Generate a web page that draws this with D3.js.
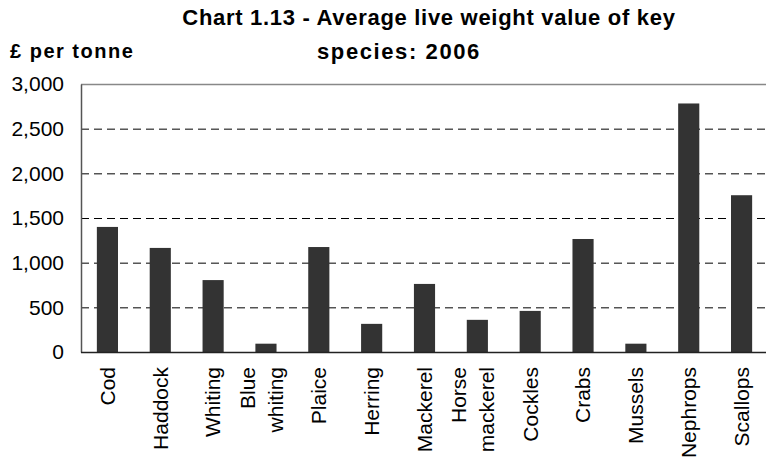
<!DOCTYPE html>
<html>
<head>
<meta charset="utf-8">
<script src="https://cdn.jsdelivr.net/npm/d3@7"></script>
<style>
body { margin: 0; background: #fff; }
text { font-family: Arial, "Liberation Sans", sans-serif; }
</style>
</head>
<body>
<div id="chart"></div>
<script>
// data
const species = ["Cod", "Haddock", "Whiting", "Blue whiting", "Plaice", "Herring", "Mackerel",
  "Horse mackerel", "Cockles", "Crabs", "Mussels", "Nephrops", "Scallops"];
const values = [1400, 1165, 805, 93, 1175, 315, 762, 360, 460, 1265, 93, 2782, 1755];
const yTicks = [0, 500, 1000, 1500, 2000, 2500, 3000];

const W = 766, H = 463;
const margin = {top: 84, right: -2, bottom: 111, left: 81};
const width = W - margin.left - margin.right,
      height = H - margin.top - margin.bottom;

const svg = d3.select("#chart").append("svg")
  .attr("width", W).attr("height", H);

// titles
svg.append("text").attr("x", 429).attr("y", 25).attr("text-anchor", "middle")
  .style("font-size", "22px").style("font-weight", "bold").style("letter-spacing", "0.7px")
  .text("Chart 1.13 - Average live weight value of key");
svg.append("text").attr("x", 399).attr("y", 59).attr("text-anchor", "middle")
  .style("font-size", "22px").style("font-weight", "bold").style("letter-spacing", "1.6px")
  .text("species: 2006");
svg.append("text").attr("x", 10).attr("y", 58)
  .style("font-size", "20px").style("font-weight", "bold").style("letter-spacing", "1.5px")
  .text("£ per tonne");

const g = svg.append("g").attr("transform", `translate(${margin.left},${margin.top})`);

const x = d3.scaleBand().domain(species).range([0, width]).paddingInner(0.6).paddingOuter(0.3);
const y = d3.scaleLinear().domain([0, 3000]).range([height, 0]);

// dashed gridlines
g.append("g").selectAll("line")
  .data(yTicks.filter(d => d > 0 && d < 3000))
  .join("line")
  .attr("x1", 0).attr("x2", width)
  .attr("y1", d => y(d) + 0.5).attr("y2", d => y(d) + 0.5)
  .attr("stroke", "#000").attr("stroke-width", 1)
  .attr("stroke-dasharray", "8,5");

// top frame line
g.append("line").attr("x1", 0).attr("x2", width).attr("y1", 0.5).attr("y2", 0.5)
  .attr("stroke", "#888").attr("stroke-width", 1.5);

// bars
g.append("g").selectAll("rect")
  .data(values)
  .join("rect")
  .attr("x", (d, i) => x(species[i]))
  .attr("y", d => y(d))
  .attr("width", x.bandwidth())
  .attr("height", d => height - y(d))
  .attr("fill", "#333333");

// y axis
const yAxis = g.append("g")
  .call(d3.axisLeft(y).tickValues(yTicks).tickSize(0).tickPadding(17).tickFormat(d3.format(",")));
yAxis.select(".domain").attr("stroke", "#555").attr("stroke-width", 1.5);
yAxis.selectAll("text").style("font-size", "21px").attr("fill", "#000");

// x axis line
g.append("line").attr("x1", 0).attr("x2", width).attr("y1", height + 0.5).attr("y2", height + 0.5)
  .attr("stroke", "#222").attr("stroke-width", 1.5);

// category labels, rotated, wrapped on two words
const lab = g.append("g").selectAll("text")
  .data(species)
  .join("text")
  .attr("transform", d => `translate(${x(d) + x.bandwidth() / 2},${height + 15}) rotate(-90)`)
  .attr("text-anchor", "end")
  .style("font-size", "21px");
lab.each(function(d) {
  const words = d.split(" ");
  const t = d3.select(this);
  words.forEach((w, i) => {
    t.append("tspan").attr("x", 0)
      .attr("dy", words.length === 1 ? "0.35em" : (i === 0 ? "-0.52em" : "1.33em"))
      .text(w);
  });
});
</script>
</body>
</html>
